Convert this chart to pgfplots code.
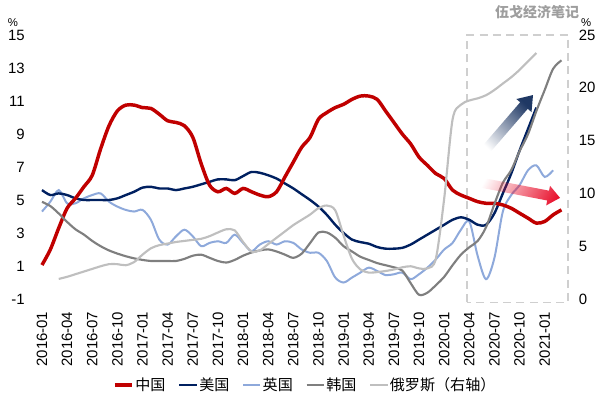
\documentclass[border=0pt]{standalone}
\usepackage{pgfplots}
\pgfplotsset{compat=1.18}
\usepackage{fontspec}
\setmainfont{Liberation Sans}
\newfontfamily\cjk{Noto Sans CJK SC}
\usetikzlibrary{fadings}
\definecolor{cnred}{HTML}{C00000}
\definecolor{usnavy}{HTML}{002060}
\definecolor{ukblue}{HTML}{8EA9DB}
\definecolor{krgray}{HTML}{7F7F7F}
\definecolor{rugray}{HTML}{BFBFBF}
\definecolor{boxgray}{HTML}{CFCFCF}
\definecolor{arrnavy}{HTML}{1F3864}
\definecolor{arrred}{HTML}{E8112D}
\tikzfading[name=fadeLR, left color=transparent!100, right color=transparent!0]
\pgfplotsset{
  base/.style={
    width=408.5pt, height=198pt, scale only axis,
    xmin=-1.5, xmax=63.5,
    axis line style={draw=none},
    major tick length=0pt,
    tick style={draw=none},
    ticklabel style={font=\fontsize{11.2}{13}\selectfont},
    /pgf/number format/assume math mode=true,
    clip=false,
  }
}
\begin{document}
\begin{tikzpicture}
\begin{axis}[base, at={(0,0)}, anchor=south west,
  axis x line*=bottom, axis y line*=left,
  ymin=-1, ymax=15, ytick={-1,1,...,15},
  xtick={0,3,...,60},
  xticklabels={2016-01,2016-04,2016-07,2016-10,2017-01,2017-04,2017-07,2017-10,2018-01,2018-04,2018-07,2018-10,2019-01,2019-04,2019-07,2019-10,2020-01,2020-04,2020-07,2020-10,2021-01},
  xticklabel style={rotate=90, anchor=east, xshift=0pt},
  xticklabel shift=6pt,
]
\draw[boxgray, line width=1.1pt, dash pattern=on 6pt off 4pt] (axis cs:50.7,-1.2) rectangle (axis cs:62.8,15);
\addplot[ukblue, line width=1.5pt, smooth, tension=0.5] coordinates {
(0,4.3)(1,4.9)(2,5.6)(3,4.8)(4,4.8)(5,5.1)(6,5.3)(7,5.4)(8,4.9)(9,4.6)(10,4.4)(11,4.3)(12,4.4)(13,3.8)(14,2.6)(15,2.3)(16,2.8)(17,3.2)(18,2.8)(19,2.2)(20,2.4)(21,2.5)(22,2.4)(23,2.9)(24,2.4)(25,1.9)(26,2.3)(27,2.5)(28,2.3)(29,2.5)(30,2.4)(31,2.0)(32,1.8)(33,1.8)(34,1.3)(35,0.3)(36,0.0)(37,0.3)(38,0.6)(39,0.9)(40,0.7)(41,0.45)(42,0.5)(43,0.6)(44,0.2)(45,0.5)(46,0.9)(47,1.4)(48,2.0)(49,2.4)(50,3.2)(51,3.7)(52,1.6)(53,0.2)(54,1.5)(55,4.3)(56,5.3)(57,5.9)(58,6.8)(59,7.1)(60,6.4)(61,6.8)};
\addplot[usnavy, line width=1.8pt, smooth, tension=0.5] coordinates {
(0,5.6)(1,5.3)(2,5.4)(3,5.3)(4,5.1)(5,5.0)(6,5.0)(7,5.0)(8,5.0)(9,5.1)(10,5.3)(11,5.5)(12,5.75)(13,5.8)(14,5.7)(15,5.7)(16,5.6)(17,5.7)(18,5.8)(19,5.95)(20,6.1)(21,6.25)(22,6.25)(23,6.2)(24,6.45)(25,6.7)(26,6.65)(27,6.5)(28,6.3)(29,6.0)(30,5.7)(31,5.35)(32,5.0)(33,4.6)(34,4.1)(35,3.5)(36,3.0)(37,2.6)(38,2.45)(39,2.35)(40,2.15)(41,2.05)(42,2.05)(43,2.1)(44,2.3)(45,2.6)(46,2.9)(47,3.2)(48,3.5)(49,3.8)(50,3.95)(51,3.8)(52,3.5)(53,3.5)(54,4.2)(55,5.4)(56,6.6)(57,8.0)(58,9.3)(59,10.6)};
\addplot[cnred, line width=2.6pt, smooth, tension=0.5] coordinates {
(0,1.06)(1,2.0)(2,3.3)(3,4.5)(4,5.1)(5,5.8)(6,6.5)(7,8.1)(8,9.5)(9,10.4)(10,10.75)(11,10.75)(12,10.6)(13,10.55)(14,10.2)(15,9.8)(16,9.7)(17,9.5)(18,8.8)(19,7.2)(20,5.9)(21,5.5)(22,5.7)(23,5.4)(24,5.7)(25,5.5)(26,5.3)(27,5.2)(28,5.5)(29,6.4)(30,7.3)(31,8.2)(32,8.8)(33,9.9)(34,10.3)(35,10.6)(36,10.8)(37,11.1)(38,11.3)(39,11.3)(40,11.1)(41,10.4)(42,9.7)(43,9.0)(44,8.4)(45,7.6)(46,7.1)(47,6.6)(48,6.3)(49,5.6)(50,5.3)(51,5.1)(52,4.9)(53,4.8)(54,4.8)(55,4.7)(56,4.5)(57,4.2)(58,3.9)(59,3.6)(60,3.7)(61,4.1)(62,4.4)};
\end{axis}
\begin{axis}[base, at={(0,0)}, anchor=south west,
  axis x line*=bottom, axis y line*=right,
  ymin=0, ymax=25, ytick={0,5,...,25},
  xtick=\empty,
  legend style={at={(0.506,-0.326)}, anchor=center, draw=none, fill=none,
    legend columns=-1, font=\cjk\fontsize{11.3}{13}\selectfont,
    /tikz/every even column/.append style={column sep=8.5pt},
    nodes={inner sep=1pt}},
  legend image code/.code={\draw[#1] (0pt,0pt) -- (13pt,0pt);},
]
\addlegendimage{cnred, line width=2.6pt}
\addlegendentry{中国}
\addlegendimage{usnavy, line width=1.8pt}
\addlegendentry{美国}
\addlegendimage{ukblue, line width=1.5pt}
\addlegendentry{英国}
\addplot[krgray, line width=1.6pt, smooth, tension=0.5] coordinates {
(0,9.2)(1,8.8)(2,8.1)(3,7.3)(4,6.6)(5,6.1)(6,5.5)(7,5.0)(8,4.6)(9,4.3)(10,4.05)(11,3.85)(12,3.7)(13,3.6)(14,3.6)(15,3.6)(16,3.6)(17,3.8)(18,4.1)(19,4.2)(20,3.9)(21,3.6)(22,3.45)(23,3.7)(24,4.1)(25,4.4)(26,4.6)(27,4.7)(28,4.5)(29,4.2)(30,3.9)(31,4.3)(32,5.3)(33,6.3)(34,6.3)(35,5.8)(36,5.0)(37,4.5)(38,4.0)(39,3.7)(40,3.4)(41,3.2)(42,3.0)(43,2.7)(44,1.5)(45,0.4)(46,0.6)(47,1.3)(48,2.1)(49,3.2)(50,4.2)(51,4.9)(52,5.5)(53,6.8)(54,9.0)(55,11.0)(56,12.2)(57,14.0)(58,15.6)(59,17.8)(60,19.8)(61,21.8)(62,22.6)};
\addlegendentry{韩国}
\addplot[rugray, line width=1.6pt, smooth, tension=0.5] coordinates {
(2,1.9)(3,2.1)(4,2.35)(5,2.6)(6,2.85)(7,3.1)(8,3.3)(9,3.3)(10,3.2)(11,3.5)(12,4.2)(13,4.8)(14,5.1)(15,5.25)(16,5.4)(17,5.5)(18,5.6)(19,5.7)(20,5.95)(21,6.3)(22,6.6)(23,6.5)(24,5.4)(25,4.5)(26,4.6)(27,5.2)(28,5.8)(29,6.4)(30,7.0)(31,7.5)(32,8.0)(33,8.6)(34,8.85)(35,8.4)(36,6.0)(37,3.8)(38,2.8)(39,2.5)(40,2.55)(41,2.65)(42,2.8)(43,3.0)(44,3.1)(45,2.9)(46,2.9)(47,3.8)(48,9.5)(49,17.0)(50,18.4)(51,18.8)(52,19.0)(53,19.3)(54,19.8)(55,20.4)(56,21.0)(57,21.7)(58,22.5)(59,23.3)};
\addlegendentry{俄罗斯（右轴）}
\end{axis}
% arrows
\begin{scope}[shift={(340.2pt,109.5pt)}, rotate=49.2]
\fill[arrnavy, path fading=fadeLR, fading angle=49.2] (0,-3.75pt) -- (47pt,-3.75pt) -- (47pt,-7.5pt) -- (57.4pt,0pt) -- (47pt,7.5pt) -- (47pt,3.75pt) -- (0,3.75pt) -- cycle;
\end{scope}
\begin{scope}[shift={(337.95pt,87.4pt)}, rotate=-10.9]
\fill[arrred, path fading=fadeLR, fading angle=-10.9] (0,-3.75pt) -- (52pt,-3.75pt) -- (52pt,-7.5pt) -- (61.1pt,0pt) -- (52pt,7.5pt) -- (52pt,3.75pt) -- (0,3.75pt) -- cycle;
\end{scope}
\node[font=\cjk\bfseries\fontsize{10.5}{12}\selectfont, text=black!38] at (380.7pt,215.25pt) {伍戈经济笔记};
\node[font=\fontsize{8.5}{10}\selectfont] at (-12.3pt,207pt) {\%};
\node[font=\fontsize{8.5}{10}\selectfont] at (417.5pt,207pt) {\%};
\pgfresetboundingbox
\useasboundingbox (-22.05pt,-73.5pt) rectangle (427.95pt,224.25pt);
\end{tikzpicture}
\end{document}
